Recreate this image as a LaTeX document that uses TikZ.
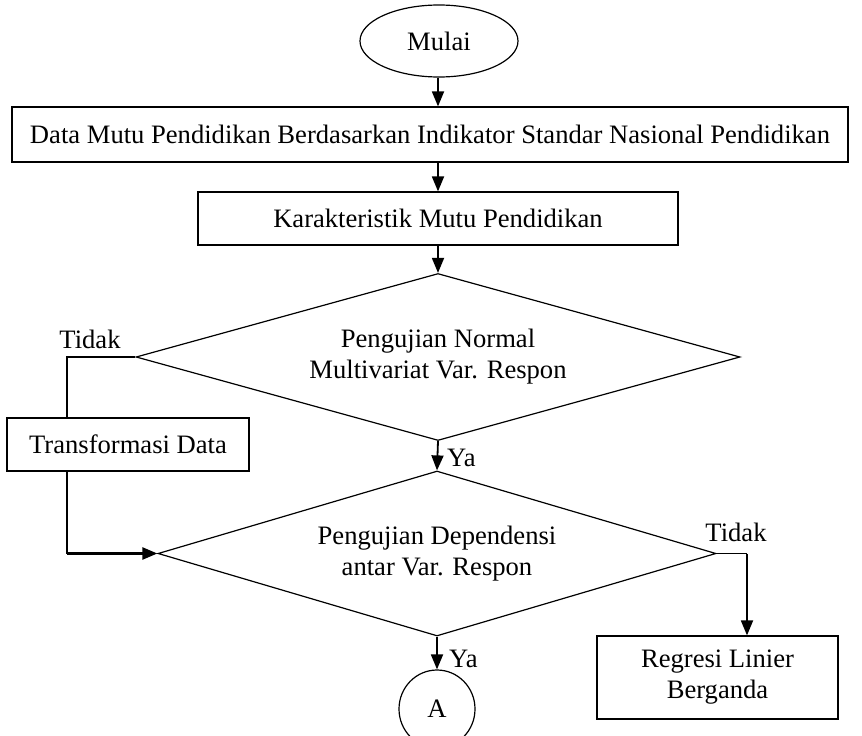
\documentclass[tikz,border=0pt]{standalone}
\usepackage{fontspec}
\setmainfont{Liberation Serif}
\usetikzlibrary{shapes.geometric,arrows.meta}
\begin{document}
\begin{tikzpicture}[x=1pt,y=-1pt,
  every node/.style={font=\fontsize{26.6}{31}\selectfont},
  boxnode/.style={draw,line width=1.2pt,inner sep=0pt,align=center},
  decision/.style={draw,diamond,line width=1.2pt,inner sep=0pt,align=center},
  term/.style={draw,ellipse,line width=1.2pt,inner sep=0pt},
  flow/.style={line width=1.8pt,-{Triangle[width=12pt,length=15pt]}},
  plainline/.style={line width=1.2pt},
  lbl/.style={inner sep=0pt}]
\useasboundingbox (0,0) rectangle (862,736);
\node[term,minimum width=158pt,minimum height=72pt] (mulai) at (439,41) {Mulai};
\node[boxnode,minimum width=836pt,minimum height=55pt] (data) at (430,134.5) {Data Mutu Pendidikan Berdasarkan Indikator Standar Nasional Pendidikan};
\node[boxnode,minimum width=480pt,minimum height=53pt] (kar) at (438,218.5) {Karakteristik Mutu Pendidikan};
\node[decision,shape aspect=3.6,minimum width=604pt,minimum height=167pt] (d1) at (438,357) {Pengujian Normal\\Multivariat Var. Respon};
\node[boxnode,minimum width=242pt,minimum height=53pt] (trans) at (128,444.5) {Transformasi Data};
\node[decision,shape aspect=3.4,minimum width=558pt,minimum height=165pt] (d2) at (437,553.5) {Pengujian Dependensi\\antar Var. Respon};
\node[boxnode,minimum width=241pt,minimum height=83pt] (reg) at (717.5,677.5) {Regresi Linier\\Berganda};
\node[term,minimum width=76pt,minimum height=78pt] (a) at (437,709) {A};
\coordinate (c1) at (67,357);
\coordinate (c2) at (747,553.5);
% connectors
\draw[flow] (mulai.south -| kar.north) -- (kar.north |- data.north);
\draw[flow] (kar.north |- data.south) -- (kar.north);
\draw[flow] (kar.south) -- (d1.north);
\draw[plainline] (d1.west) -- (c1) -- (c1 |- trans.north);
\draw[plainline] (c1 |- trans.south) -- (c1 |- d2.west);
\draw[line width=2.4pt,-{Triangle[width=12pt,length=15pt]}] (c1 |- d2.west) -- (d2.west);
\draw[flow] (d1.south) -- (d2.north);
\draw[plainline] (d2.east) -- (c2);
\draw[flow] (c2) -- (c2 |- reg.north);
\draw[flow] (d2.south) -- (a.north);
% labels
\node[lbl,anchor=base] (t1) at (90,348) {Tidak};
\node[lbl,anchor=base] (t2) at (736,541) {Tidak};
\node[lbl,anchor=base west] (y1) at (447,466) {Ya};
\node[lbl,anchor=base west] (y2) at (449,667) {Ya};
\end{tikzpicture}
\end{document}
